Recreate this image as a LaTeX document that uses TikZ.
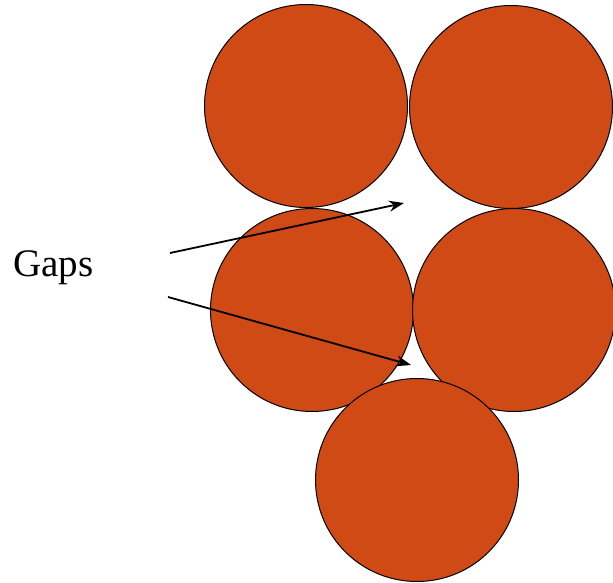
\documentclass[tikz,border=0pt]{standalone}
\usepackage{fontspec}
\setmainfont{Liberation Serif}
\usetikzlibrary{arrows.meta}
\definecolor{ball}{RGB}{208,74,22}
\tikzset{
  ballnode/.style={circle, draw=black, line width=1pt, fill=ball, minimum size=203pt, inner sep=0pt},
  gaparrow/.style={line width=1.8pt, -{Stealth[length=15pt,width=11pt]}}
}
\begin{document}
\begin{tikzpicture}[x=1pt,y=-1pt]
\useasboundingbox (0,0) rectangle (613,583);
\node[ballnode] (tl) at (306,106) {};
\node[ballnode] (tr) at (511,107) {};
\node[ballnode] (ml) at (312,310) {};
\node[ballnode] (mr) at (514,310) {};
\node[ballnode] (bc) at (417,480) {};
\node[font=\fontsize{39}{41}\selectfont, anchor=base west, inner sep=0pt] (gaps) at (13,276) {Gaps};
\coordinate (s1) at (170,253);
\coordinate (e1) at (404,203);
\coordinate (s2) at (168,297);
\coordinate (e2) at (411,365);
\draw[gaparrow] (s1) -- (e1);
\draw[gaparrow] (s2) -- (e2);
\end{tikzpicture}
\end{document}
